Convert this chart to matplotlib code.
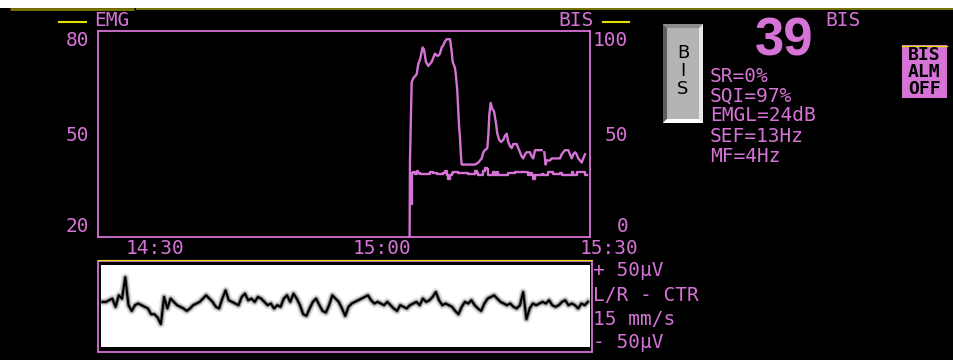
#!/usr/bin/env python3
import numpy as np
import matplotlib
matplotlib.use("Agg")
import matplotlib.pyplot as plt
from matplotlib.patches import Rectangle, Polygon

# Tendencia BIS (eje derecho 0-100), tiempo en minutos desde las 14:00
tiempos_bis = [
    63.65, 63.70, 63.92, 64.14, 64.59, 64.80, 65.02, 65.25, 65.38, 65.55,
    65.68, 65.81, 66.12, 66.34, 66.57, 66.78, 67.00, 67.23, 67.44, 67.66,
    67.89, 68.10, 68.33, 68.55, 68.99, 69.21, 69.34, 69.65, 69.78, 69.95,
    70.18, 70.31, 70.44, 70.53, 71.19, 72.29, 72.73, 73.18, 73.39, 73.61,
    73.92, 74.05, 74.18, 74.36, 74.58, 74.80, 75.07, 75.24, 75.50, 75.73,
    76.03, 76.25, 76.48, 76.69, 76.92, 77.14, 77.35, 77.80, 78.01, 78.24,
    78.46, 78.67, 78.90, 79.12, 79.56, 79.78, 79.99, 80.22, 80.44, 81.10,
    81.25, 81.45, 81.63, 81.76, 82.20, 82.43, 83.09, 83.52, 83.75, 83.96,
    84.18, 84.41, 84.62, 84.84, 85.07, 85.28, 85.51, 85.73, 85.94, 86.17,
    86.39, 86.60, 86.83,
]
valores_bis = [
    0, 37, 75, 77, 79, 84, 86, 90, 92, 91,
    88, 85, 83, 84, 85, 87, 89, 88, 88, 89,
    92, 93, 95, 96, 96, 90, 85, 82, 78, 71,
    54, 48, 39, 35, 35, 35, 36, 38, 41, 42,
    43, 49, 59, 65, 62, 61, 55, 50, 47, 46,
    47, 49, 50, 46, 44, 43, 45, 45, 43, 41,
    39, 38, 40, 41, 41, 39, 38, 42, 42, 42,
    np.nan, 41, 35, 37, 37, 38, 38, 38, 40, 41,
    42, 42, 42, 40, 38, 40, 41, 40, 38, 37,
    36, 38, 40,
]

# Tendencia EMG (eje izquierdo 20-80 dB)
tiempos_emg = [
    63.77, 63.92, 64.14, 64.36, 64.59, 64.80, 65.02, 66.12, 66.34, 66.78,
    67.23, 68.10, 68.33, 68.55, 68.76, 68.99, 69.21, 69.42, 70.08, 71.19,
    71.40, 71.85, 72.29, 72.51, 72.73, 73.18, 73.39, 73.61, 73.84, 73.97,
    74.50, 74.71, 74.93, 75.16, 75.37, 75.82, 76.69, 77.58, 78.90, 79.33,
    79.56, 79.78, 79.99, 80.22, 81.10, 81.25, 81.45, 81.98, 82.64, 83.52,
    83.75, 84.84, 85.07, 85.28, 85.73, 86.60, 86.83, 87.10,
]
valores_emg = [
    29.5, 38.6, 38.9, 38.3, 39.1, 38.6, 38.3, 38.3, 38.9, 38.6,
    38.3, 38.6, 39.1, 38.1, 36.9, 38.1, 38.6, 38.9, 38.6, 38.6,
    38.3, 38.3, 39.1, 38.4, 38.1, 38.1, 39.1, 40.0, 39.8, 38.1,
    38.1, 38.9, 38.1, 38.9, 38.1, 38.1, 38.6, 38.9, 38.9, 38.1,
    38.6, 38.1, 36.9, 38.1, 38.3, np.nan, 38.1, 38.9, 38.3, 38.6,
    38.1, 38.1, 38.9, 38.1, 38.8, 38.8, 38.1, 38.1,
]

# Ejes y etiquetas
horas = [30, 60, 90]
etiquetas_horas = ["14:30", "15:00", "15:30"]
ticks_emg = [20, 50, 80]
ticks_bis = [0, 50, 100]

# Trazo EEG crudo en microvoltios (muestras equiespaciadas)
eeg_uv = [
    5, 5, 7, 9, -1, 13, 9, 35, 1, -6, 1, 3, 1, -1, -3, -10, -10, -14, -22, 11,
    -3, 9, 5, 1, -1, -3, -6, -3, 1, 3, 5, 9, 13, 9, 5, -1, -3, 9, 19, 7,
    5, 3, 1, 11, 15, 7, 9, 5, 11,
    9, 5, 1, 3, -3, 1, -1, 9, 13, 5, 15, 9, 1, -10, -12, -3, 5, 9, 1, -6,
    -8, 1, 13, 9, 5, -3, -12, -1, 3, 5, 7, 9, 11, 13, 7, 3, 5, 3, 1, 5,
    1, -3, -6, 1, -1, -3, 1, 3, 5, 1,
    9, 5, 7, 11, 17, 7, 1, 3, 1, -1, -6, -10, -1, 5, 3, 7, 1, -3, -6, 3,
    9, 11, 13, 9, 5, 3, 1, 3, -1, -3, 1, 17, -16, -3, 3, 1, 3, 5, 3, 7,
    1, -1, 1, 5, 7, 1, 3, 1, -3, 3, 1, 5,
]

# Valores numericos del panel derecho
valor_bis = "39"
parametros = ["SR=0%", "SQI=97%", "EMGL=24dB", "SEF=13Hz", "MF=4Hz"]
etiquetas_eeg = ["+ 50µV", "L/R - CTR", "15 mm/s", "- 50µV"]

ANCHO, ALTO = 954, 360
MAGENTA = "#d673d6"
AMARILLO = "#e4e000"
OLIVA = "#7a7800"
TAM = 14
plt.rcParams["font.family"] = ["DejaVu Sans Mono"]


def caja(x0, y0, x1, y1):
    """Convierte un rectangulo en pixeles (origen arriba) a coordenadas de figura."""
    return [x0 / ANCHO, 1 - y1 / ALTO, (x1 - x0) / ANCHO, (y1 - y0) / ALTO]


def dibujar_monitor():
    fig = plt.figure(figsize=(ANCHO / 100, ALTO / 100), dpi=100, facecolor="black")

    # Capa de fondo en pixeles para los adornos de la pantalla
    fondo = fig.add_axes([0, 0, 1, 1])
    fondo.set_xlim(0, ANCHO)
    fondo.set_ylim(ALTO, 0)
    fondo.axis("off")

    # Banda blanca superior y linea oliva
    fondo.add_patch(Rectangle((0, 0), ANCHO, 8, fc="white", ec="none"))
    fondo.plot([10, 134], [9.2, 9.2], color=OLIVA, lw=2.0, solid_capstyle="butt")
    fondo.plot([136, 954], [8.6, 8.6], color="#9a9800", lw=1.1, solid_capstyle="butt")

    # Leyendas de las tendencias
    fondo.plot([59, 86], [21.5, 21.5], color=AMARILLO, lw=1.5)
    fondo.text(94, 21, "EMG", color=MAGENTA, fontsize=TAM, va="center", ha="left")
    fondo.plot([603, 629], [21.5, 21.5], color=AMARILLO, lw=1.5)
    fondo.text(594, 21, "BIS", color=MAGENTA, fontsize=TAM, va="center", ha="right")

    # Grafica principal de tendencias
    ax = fig.add_axes(caja(98, 31, 590, 236.5))
    ax.set_facecolor("black")
    ax.set_xlim(22.47, 87.49)
    ax.set_ylim(20, 80)
    for lado in ax.spines.values():
        lado.set_color(MAGENTA)
        lado.set_linewidth(1.3)
    ax.set_xticks([])
    ax.set_yticks(ticks_emg)
    ax.tick_params(axis="y", length=0, pad=6.5, labelsize=TAM, labelcolor=MAGENTA)
    etiquetas = ax.get_yticklabels()
    etiquetas[0].set_va("bottom")
    etiquetas[-1].set_va("top")
    ax.plot(tiempos_emg, valores_emg, color=MAGENTA, lw=1.7, drawstyle="steps-post")

    ax2 = ax.twinx()
    ax2.set_ylim(0, 100)
    for lado in ax2.spines.values():
        lado.set_visible(False)
    ax2.set_yticks(ticks_bis)
    ax2.tick_params(axis="y", length=0, pad=27.5, labelsize=TAM, labelcolor=MAGENTA)
    etiquetas = ax2.get_yticklabels()
    for et in etiquetas:
        et.set_ha("right")
    etiquetas[0].set_va("bottom")
    etiquetas[-1].set_va("top")
    ax2.plot(tiempos_bis, valores_bis, color=MAGENTA, lw=1.7)

    for h, txt in zip(horas, etiquetas_horas):
        ax.text(h, -0.058, txt, transform=ax.get_xaxis_transform(), ha="center",
                va="center", color=MAGENTA, fontsize=TAM, clip_on=False)

    # Panel del EEG crudo
    fondo.add_patch(Rectangle((98, 260.5), 494, 91, fc="none", ec=MAGENTA, lw=1.3))
    fondo.plot([98, 592], [260, 260], color=AMARILLO, lw=0.8)
    eeg = fig.add_axes(caja(101, 265, 589.5, 347))
    eeg.set_facecolor("white")
    eeg.set_xlim(-0.5, len(eeg_uv) - 0.5)
    eeg.set_ylim(-50, 50)
    eeg.set_xticks([])
    eeg.set_yticks([])
    for lado in eeg.spines.values():
        lado.set_visible(False)
    x = np.arange(len(eeg_uv))
    eeg.plot(x, eeg_uv, color="#909090", lw=5.5, alpha=0.3, solid_joinstyle="round")
    eeg.plot(x, eeg_uv, color="#303030", lw=3.0, alpha=0.5, solid_joinstyle="round")
    eeg.plot(x, eeg_uv, color="black", lw=1.5)

    for y, txt in zip([271, 295.5, 319.5, 343], etiquetas_eeg):
        fondo.text(593, y, txt, color=MAGENTA, fontsize=TAM, va="center", ha="left")

    # Boton BIS con relieve
    fondo.add_patch(Rectangle((663, 24), 40, 99, fc="#e8e8e8", ec="none"))
    fondo.add_patch(Polygon([(663, 24), (703, 24), (699, 28), (667, 28)], fc="#8c8c8c", ec="none"))
    fondo.add_patch(Polygon([(663, 24), (667, 28), (667, 119), (663, 123)], fc="#5e5e5e", ec="none"))
    fondo.add_patch(Polygon([(663, 123), (703, 123), (699, 119), (667, 119)], fc="white", ec="none"))
    fondo.add_patch(Rectangle((667, 28), 32, 91, fc="#b4b4b4", ec="none"))
    fondo.text(683, 71.5, "B\nI\nS", family="DejaVu Sans", fontsize=13, color="black",
               ha="center", va="center", multialignment="center", linespacing=1.0)

    # Valor BIS grande y parametros
    fondo.text(784.5, 55, valor_bis, family="Liberation Sans", fontweight="bold",
               fontsize=38, color=MAGENTA, ha="center", va="baseline")
    fondo.text(843, 20, "BIS", color=MAGENTA, fontsize=TAM, ha="center", va="center")
    for y, txt in zip([76, 96, 115.5, 136, 156], parametros):
        fondo.text(710, y, txt, color=MAGENTA, fontsize=TAM, ha="left", va="center")

    # Indicador de alarma
    fondo.add_patch(Rectangle((902, 45), 45, 53, fc=MAGENTA, ec="none"))
    fondo.plot([902, 947], [45.5, 45.5], color=AMARILLO, lw=1)
    fondo.text(924.5, 72, "BIS\nALM\nOFF", color="black", fontsize=13, fontweight="bold",
               ha="center", va="center", multialignment="center", linespacing=0.95)

    fig.savefig("out.png", dpi=100, facecolor="black")
    plt.close(fig)


if __name__ == "__main__":
    assert len(tiempos_bis) == len(valores_bis)
    assert len(tiempos_emg) == len(valores_emg)
    dibujar_monitor()
